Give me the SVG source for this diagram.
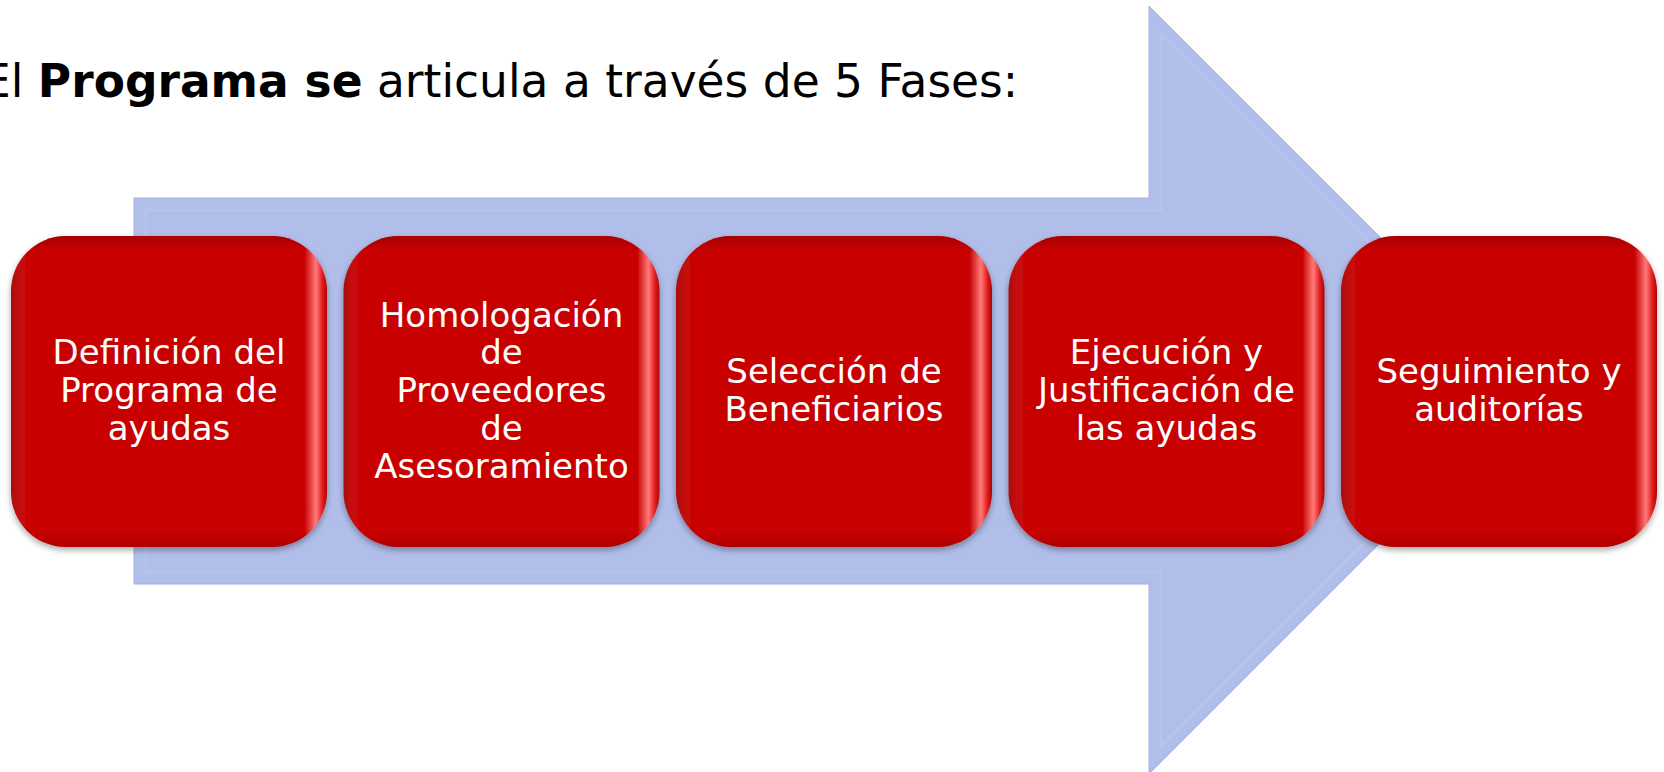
<svg xmlns="http://www.w3.org/2000/svg" width="1664" height="772" viewBox="0 0 1664 772">
<style>
.title{font-family:"DejaVu Sans",Verdana,sans-serif;font-size:45.5px;fill:#000}
.lbl{font-family:"DejaVu Sans",Verdana,sans-serif;font-size:34px;fill:#fff;text-anchor:middle}
.box{fill:url(#hg);filter:url(#sh)}
.boxv{fill:url(#vg)}
</style>
<defs>
<linearGradient id="hg" x1="0" y1="0" x2="1" y2="0">
<stop offset="0" stop-color="#a81010"/>
<stop offset="0.025" stop-color="#c41010"/>
<stop offset="0.05" stop-color="#c80404"/>
<stop offset="0.93" stop-color="#c80404"/>
<stop offset="0.965" stop-color="#ff7a7a"/>
<stop offset="0.985" stop-color="#e02020"/>
<stop offset="1" stop-color="#b00000"/>
</linearGradient>
<linearGradient id="vg" x1="0" y1="0" x2="0" y2="1">
<stop offset="0" stop-color="#900000" stop-opacity="0.55"/>
<stop offset="0.05" stop-color="#900000" stop-opacity="0"/>
<stop offset="0.95" stop-color="#900000" stop-opacity="0"/>
<stop offset="1" stop-color="#900000" stop-opacity="0.45"/>
</linearGradient>
<filter id="sh" x="-10%" y="-10%" width="120%" height="125%">
<feDropShadow dx="0" dy="3" stdDeviation="3" flood-color="#000" flood-opacity="0.35"/>
</filter>
</defs>
<text class="title" x="-18" y="97">El <tspan font-weight="bold">Programa se</tspan> articula a través de 5 Fases:</text>
<g id="arrow">
<path d="M134 198 H1149 V6 L1533 390 L1149 774 V584 H134 Z" fill="#b1beea" stroke="#a4b1dd" stroke-width="1"/>
<path d="M146 210 H1161 V34 L1517 390 L1161 746 V572 H146 Z" fill="none" stroke="#b8c4ef" stroke-width="3" opacity="0.7"/>
</g>
<g id="connectors"></g>
<g id="n1">
<rect class="box" x="11" y="236" width="316" height="311" rx="55"/>
<rect class="boxv" x="11" y="236" width="316" height="311" rx="55"/>
<text class="lbl" x="169" y="364">Definición del</text>
<text class="lbl" x="169" y="402">Programa de</text>
<text class="lbl" x="169" y="440">ayudas</text>
</g>
<g id="n2">
<rect class="box" x="343.5" y="236" width="316" height="311" rx="55"/>
<rect class="boxv" x="343.5" y="236" width="316" height="311" rx="55"/>
<text class="lbl" x="501.5" y="326.5">Homologación</text>
<text class="lbl" x="501.5" y="364.3">de</text>
<text class="lbl" x="501.5" y="402">Proveedores</text>
<text class="lbl" x="501.5" y="439.8">de</text>
<text class="lbl" x="501.5" y="477.6">Asesoramiento</text>
</g>
<g id="n3">
<rect class="box" x="676" y="236" width="316" height="311" rx="55"/>
<rect class="boxv" x="676" y="236" width="316" height="311" rx="55"/>
<text class="lbl" x="834" y="383">Selección de</text>
<text class="lbl" x="834" y="421">Beneficiarios</text>
</g>
<g id="n4">
<rect class="box" x="1008.5" y="236" width="316" height="311" rx="55"/>
<rect class="boxv" x="1008.5" y="236" width="316" height="311" rx="55"/>
<text class="lbl" x="1166.5" y="364">Ejecución y</text>
<text class="lbl" x="1166.5" y="402">Justificación de</text>
<text class="lbl" x="1166.5" y="440">las ayudas</text>
</g>
<g id="n5">
<rect class="box" x="1341" y="236" width="316" height="311" rx="55"/>
<rect class="boxv" x="1341" y="236" width="316" height="311" rx="55"/>
<text class="lbl" x="1499" y="383">Seguimiento y</text>
<text class="lbl" x="1499" y="421">auditorías</text>
</g>
</svg>
